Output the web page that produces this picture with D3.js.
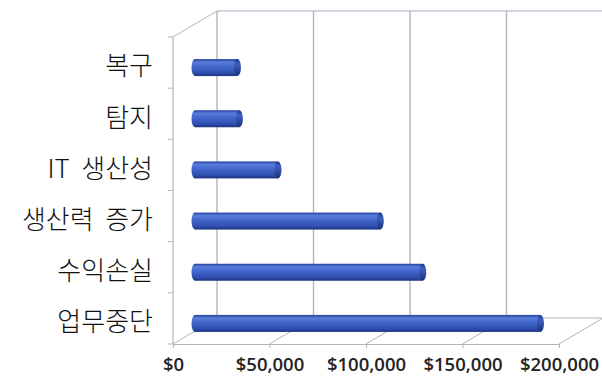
<!DOCTYPE html>
<html>
<head>
<meta charset="utf-8">
<script src="https://cdn.jsdelivr.net/npm/d3@7"></script>
<style>
  body { margin: 0; background: #fff; }
  svg { display: block; }
</style>
</head>
<body>
<svg width="602" height="379"></svg>
<script>
// data
const categories = ['복구', '탐지', 'IT 생산성', '생산력 증가', '수익손실', '업무중단'];
const values = [22000, 23000, 43000, 96000, 118000, 179000];
const valueTicks = [0, 50000, 100000, 150000, 200000];

const svg = d3.select('svg');
const width = +svg.attr('width');
const height = +svg.attr('height');

// front plane of the fake 3d box, and the offset to the back wall
const frontLeft = 173, frontRight = 559;
const frontTop = 37, frontBottom = 344;
const depth = {dx: 44, dy: -26};
const barDepth = 0.5;  // bars sit halfway back

const xScale = d3.scaleLinear()
  .domain([0, 200000])
  .range([frontLeft, frontRight]);

// category bands on the front edge (ticks) and for the bars
const yFront = d3.scaleBand()
  .domain(categories)
  .range([frontTop, frontBottom]);
const yBar = d3.scaleBand()
  .domain(categories)
  .range([42, 349]);

const barThickness = 17;
const capRx = 3.5;
const lineColor = '#b4b4b8';

// gradient for the cylinders
const defs = svg.append('defs');
const grad = defs.append('linearGradient')
  .attr('id', 'cyl')
  .attr('x1', 0).attr('y1', 0).attr('x2', 0).attr('y2', 1);
[['0%', '#233f9c'], ['18%', '#5a7ddb'], ['40%', '#4669cf'], ['80%', '#3050b0'], ['100%', '#1c337f']]
  .forEach(([o, c]) => grad.append('stop').attr('offset', o).attr('stop-color', c));
const capGrad = defs.append('linearGradient')
  .attr('id', 'cap')
  .attr('x1', 0).attr('y1', 0).attr('x2', 0).attr('y2', 1);
[['0%', '#1f3888'], ['30%', '#3f5fc0'], ['100%', '#1a2f78']]
  .forEach(([o, c]) => capGrad.append('stop').attr('offset', o).attr('stop-color', c));

const g = svg.append('g');

// back wall: outline and vertical gridlines
const backTop = frontTop + depth.dy;
const backBottom = frontBottom + depth.dy;
g.append('line')
  .attr('x1', xScale(0) + depth.dx).attr('x2', xScale(200000) + depth.dx)
  .attr('y1', backTop).attr('y2', backTop)
  .attr('stroke', '#c3c8d8').attr('stroke-width', 1.3);
g.append('line')
  .attr('x1', xScale(0) + depth.dx).attr('x2', xScale(200000) + depth.dx)
  .attr('y1', backBottom).attr('y2', backBottom)
  .attr('stroke', lineColor).attr('stroke-width', 1);
g.selectAll('.grid').data(valueTicks)
  .enter().append('line')
    .attr('class', 'grid')
    .attr('x1', d => xScale(d) + depth.dx)
    .attr('x2', d => xScale(d) + depth.dx)
    .attr('y1', backTop).attr('y2', backBottom)
    .attr('stroke', lineColor).attr('stroke-width', 1.4);

// floor lines going into depth
g.selectAll('.floor').data(valueTicks)
  .enter().append('line')
    .attr('class', 'floor')
    .attr('x1', d => xScale(d)).attr('y1', frontBottom)
    .attr('x2', d => xScale(d) + depth.dx).attr('y2', backBottom)
    .attr('stroke', lineColor).attr('stroke-width', 1);

// left wall top edge
g.append('line')
  .attr('x1', frontLeft).attr('y1', frontTop)
  .attr('x2', frontLeft + depth.dx).attr('y2', backTop)
  .attr('stroke', lineColor).attr('stroke-width', 1);

// front vertical axis line with ticks at band boundaries
g.append('line')
  .attr('x1', frontLeft).attr('x2', frontLeft)
  .attr('y1', frontTop).attr('y2', frontBottom)
  .attr('stroke', lineColor).attr('stroke-width', 1.2);
const bounds = categories.map(c => yFront(c)).concat([frontBottom]);
g.selectAll('.ytick').data(bounds)
  .enter().append('line')
    .attr('class', 'ytick')
    .attr('x1', frontLeft - 5).attr('x2', frontLeft)
    .attr('y1', d => d).attr('y2', d => d)
    .attr('stroke', lineColor).attr('stroke-width', 1);

// value axis along the front floor edge
const xAxis = d3.axisBottom(xScale)
  .tickValues(valueTicks)
  .tickFormat(d3.format('$,'))
  .tickSize(4)
  .tickPadding(10);
const xAxisGroup = g.append('g')
  .attr('transform', `translate(0, ${frontBottom})`)
  .call(xAxis);
xAxisGroup.select('.domain')
  .attr('stroke', lineColor).attr('stroke-width', 1);
xAxisGroup.selectAll('.tick line').attr('stroke', lineColor);
xAxisGroup.selectAll('.tick text')
  .attr('fill', '#222')
  .attr('font-family', '"Open Sans", sans-serif')
  .attr('font-size', 18.5)
  .attr('font-weight', 600);

// cylinders
const bx0 = xScale(0) + depth.dx * barDepth;
const by = d => yBar(d) + yBar.bandwidth() / 2;
const bars = g.selectAll('.bar').data(categories.map((c, i) => ({c, v: values[i]})))
  .enter().append('g').attr('class', 'bar');
bars.append('ellipse')
  .attr('cx', bx0).attr('cy', d => by(d.c))
  .attr('rx', capRx).attr('ry', barThickness / 2)
  .attr('fill', 'url(#cyl)');
bars.append('rect')
  .attr('x', bx0)
  .attr('y', d => by(d.c) - barThickness / 2)
  .attr('width', d => xScale(d.v) - xScale(0))
  .attr('height', barThickness)
  .attr('fill', 'url(#cyl)');
bars.append('ellipse')
  .attr('cx', d => bx0 + xScale(d.v) - xScale(0)).attr('cy', d => by(d.c))
  .attr('rx', capRx).attr('ry', barThickness / 2)
  .attr('fill', 'url(#cap)');

// category labels
g.selectAll('.cat').data(categories)
  .enter().append('text')
    .attr('class', 'cat')
    .attr('x', 153)
    .attr('y', d => by(d) - 1.5)
    .attr('dy', '0.36em')
    .attr('text-anchor', 'end')
    .attr('font-family', '"Noto Sans CJK KR", sans-serif')
    .attr('font-size', 26)
    .attr('font-weight', 300)
    .attr('fill', '#111')
    .style('white-space', 'pre')
    .text(d => d.replace(' ', '  '));
</script>
</body>
</html>
